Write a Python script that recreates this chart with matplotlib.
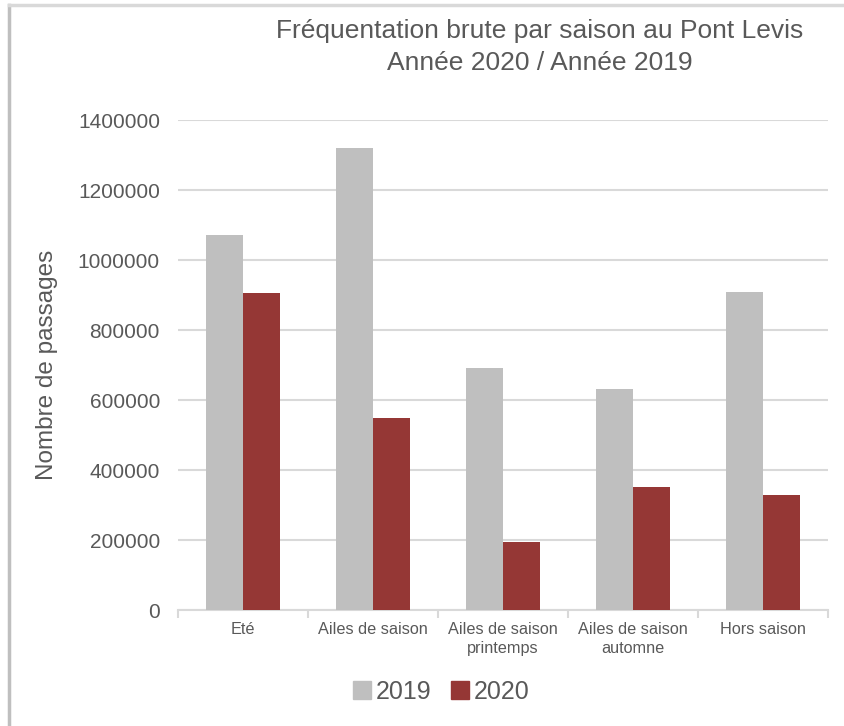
import numpy as np
import matplotlib.pyplot as plt
from matplotlib.lines import Line2D

categories = ['Eté', 'Ailes de saison', 'Ailes de saison\nprintemps',
              'Ailes de saison\nautomne', 'Hors saison']
val_2019 = [1071000, 1320000, 691000, 631000, 908000]
val_2020 = [905000, 548000, 194000, 351000, 328000]
series_names = ['2019', '2020']

c2019 = '#BFBFBF'
c2020 = '#953735'
txt = '#595959'
grid = '#D9D9D9'

plt.rcParams['font.family'] = ['Liberation Sans', 'DejaVu Sans']

fig = plt.figure(figsize=(8.45, 7.26), dpi=100)
ax = fig.add_axes([178/845, 1-610/726, 650/845, 490/726])

x = np.arange(len(categories))
w = 0.285
ax.bar(x - w/2, val_2019, w, color=c2019, label=series_names[0], zorder=3)
ax.bar(x + w/2, val_2020, w, color=c2020, label=series_names[1], zorder=3)

ax.set_xlim(-0.5, len(categories) - 0.5)
ax.set_ylim(0, 1400000)
ax.set_yticks(np.arange(0, 1400001, 200000))
ax.set_yticklabels(['%d' % v for v in np.arange(0, 1400001, 200000)],
                   fontsize=15, color=txt)
ax.yaxis.grid(True, color=grid, linewidth=1.5, zorder=0)
ax.tick_params(axis='y', length=0, pad=13)

ax.set_xticks(x)
ax.set_xticklabels(categories, fontsize=11.7, color=txt, linespacing=1.3)
ax.set_xticks(np.arange(-0.5, len(categories)), minor=True)
ax.tick_params(axis='x', which='major', length=0, pad=9)
ax.tick_params(axis='x', which='minor', length=6, color=grid, width=1.5)

for s in ['top', 'right', 'left']:
    ax.spines[s].set_visible(False)
ax.spines['bottom'].set_color(grid)
ax.spines['bottom'].set_linewidth(1.5)

ax.set_ylabel('Nombre de passages', fontsize=17.5, color=txt, labelpad=14)

fig.text(540/845, 1-47/726, 'Fréquentation brute par saison au Pont Levis\nAnnée 2020 / Année 2019',
         ha='center', va='center', fontsize=19, color=txt, linespacing=1.4)

handles = [Line2D([], [], marker='s', linestyle='none', markersize=13, color=c)
           for c in (c2019, c2020)]
fig.legend(handles, series_names, loc='center', bbox_to_anchor=(440/845, 1-692/726),
           ncol=2, frameon=False, fontsize=18, labelcolor=txt,
           handletextpad=0.1, columnspacing=0.7, handlelength=0.9)

# chart frame (left and top edges visible)
fig.add_artist(Line2D([9/845, 9/845], [0, 1-5/726], transform=fig.transFigure,
                      color='#BFBFBF', linewidth=2.5))
fig.add_artist(Line2D([9/845, 1], [1-5/726, 1-5/726], transform=fig.transFigure,
                      color='#D9D9D9', linewidth=2.5))

fig.savefig('out.png', dpi=100)
